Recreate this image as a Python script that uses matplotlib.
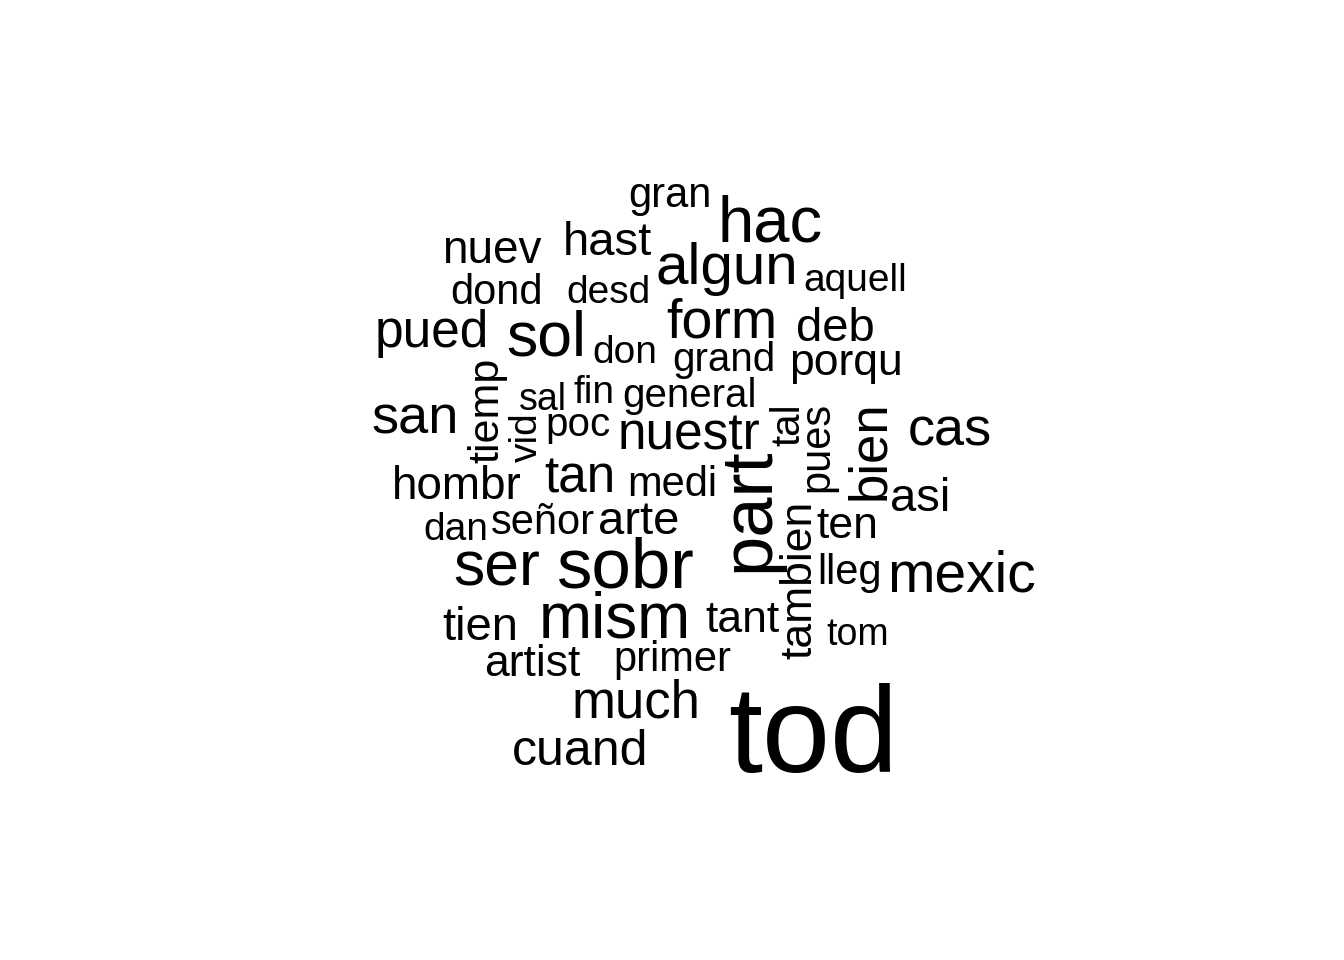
import matplotlib.pyplot as plt

# word cloud: words, sizes (pt), centre position in pixels of the 1344x960 image, rotation
words = ["gran", "hac", "nuev", "hast", "algun", "aquell", "dond", "desd", "pued", "sol",
         "form", "deb", "don", "grand", "porqu", "tiemp", "sal", "fin", "general", "san",
         "vid", "poc", "nuestr", "tal", "pues", "bien", "cas", "part", "hombr", "tan",
         "medi", "asi", "dan", "señor", "arte", "tambien", "ten", "ser", "sobr", "lleg",
         "mexic", "tien", "mism", "tant", "tom", "artist", "primer", "much", "cuand", "tod"]
sizes = [30, 47, 33, 34, 42, 28, 30, 28, 37, 45,
         40, 34, 28, 29, 32, 31, 27, 28, 29, 39,
         28, 29, 37, 29, 30, 38, 39, 52, 33, 37,
         30, 34, 28, 30, 34, 32, 32, 45, 51, 30,
         41, 34, 46, 32, 27, 32, 30, 38, 36, 88]
xs = [670, 770, 492, 607, 727, 855, 497, 608, 432, 546,
      722, 835, 625, 724, 846, 487, 543, 594, 690, 415,
      527, 578, 689, 788, 817, 870, 950, 750, 457, 580,
      672, 920, 456, 543, 639, 800, 847, 497, 626, 850,
      962, 480, 615, 742, 858, 532, 672, 636, 580, 813]
ys = [196, 224, 251, 243, 269, 281, 293, 293, 333, 339,
      324, 329, 353, 360, 363, 410, 400, 393, 396, 420,
      437, 425, 436, 425, 447, 450, 432, 510, 487, 479,
      485, 499, 530, 523, 522, 580, 526, 569, 569, 573,
      577, 628, 621, 621, 635, 665, 660, 704, 752, 740]
vertical = ["tiemp", "vid", "tal", "pues", "bien", "part", "tambien"]

fig = plt.figure(figsize=(13.44, 9.6), dpi=100)
ax = fig.add_axes([0, 0, 1, 1])
ax.set_xlim(0, 1344)
ax.set_ylim(960, 0)
ax.axis('off')

for w, s, x, y in zip(words, sizes, xs, ys):
    ax.text(x, y, w, fontsize=s, family='Liberation Sans', ha='center', va='center',
            rotation=90 if w in vertical else 0, color='black')

fig.savefig("out.png", dpi=100, facecolor='white')
